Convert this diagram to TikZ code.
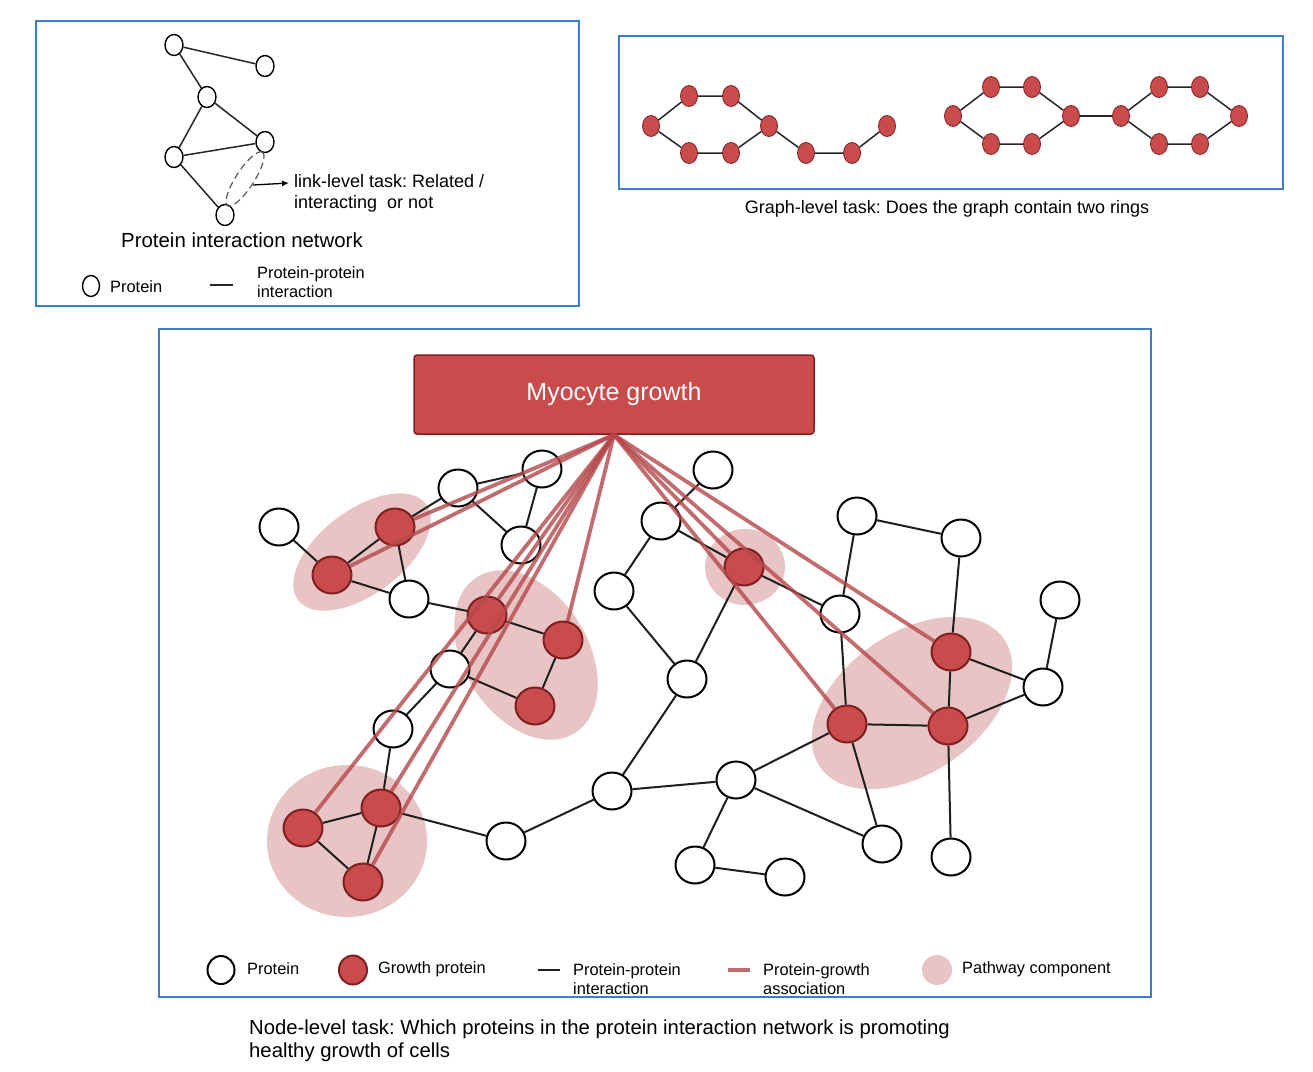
\documentclass[tikz,border=0pt]{standalone}
\usepackage{fontspec}
\setmainfont{Liberation Sans}
\usetikzlibrary{shapes.geometric,arrows.meta}
\definecolor{boxblue}{HTML}{3B7DC6}
\definecolor{gred}{HTML}{C94B4C}
\definecolor{gredd}{HTML}{7E1F22}
\definecolor{pathpink}{HTML}{E9C4C5}
\definecolor{assoc}{HTML}{B5484B}
\pgfdeclarelayer{bg}
\pgfdeclarelayer{pathbg}
\pgfsetlayers{pathbg,bg,main}
\frenchspacing
\begin{document}
\begin{tikzpicture}[x=1pt,y=-1pt,
 frame/.style={draw=boxblue,line width=2.6pt},
 prot/.style={ellipse,draw=black,fill=white,line width=2pt,minimum width=39pt,minimum height=37pt,inner sep=0pt},
 gprot/.style={prot,draw=gredd,fill=gred},
 ppi/.style={draw=black!88,line width=2pt},
 pga/.style={draw=assoc,line width=3.8pt,opacity=0.8},
 pway/.style={fill=pathpink},
 sprot/.style={ellipse,draw=black,fill=white,line width=1.4pt,minimum width=18pt,minimum height=21pt,inner sep=0pt},
 rprot/.style={ellipse,draw=gredd,fill=gred,line width=0.8pt,minimum width=17pt,minimum height=21pt,inner sep=0pt},
 sedge/.style={draw=black!85,line width=1.5pt},
 lbl/.style={font=\fontsize{16.4}{19}\selectfont,align=left,inner sep=0pt,anchor=west}
]
\useasboundingbox (0,0) rectangle (1313,1071);
\begin{pgfonlayer}{pathbg}
\fill[white] (0,0) rectangle (1313,1071);
\end{pgfonlayer}

% frames
\draw[frame] (36,21) rectangle (579,306);
\draw[frame] (619,36) rectangle (1283,189);
\draw[frame] (159,329) rectangle (1151,997);

% ---------- top-left: link-level ----------
\node[sprot] (a1) at (174,45) {};
\node[sprot] (a2) at (265,66) {};
\node[sprot] (a3) at (207,97) {};
\node[sprot] (a4) at (174,157) {};
\node[sprot] (a5) at (265,142) {};
\node[sprot] (a6) at (225,215) {};
\begin{pgfonlayer}{bg}
\draw[sedge] (a1) -- (a2);
\draw[sedge] (a1) -- (a3);
\draw[sedge] (a3) -- (a4);
\draw[sedge] (a3) -- (a5);
\draw[sedge] (a4) -- (a5);
\draw[sedge] (a4) -- (a6);
\end{pgfonlayer}
\draw[dashed,dash pattern=on 7pt off 4pt,draw=black!65,line width=1.2pt,rotate around={57:(245,179)}] (245,179) ellipse [x radius=32, y radius=9];
\coordinate (lnk) at (253,185);
\coordinate (lnkend) at (289,183);
\draw[line width=1.3pt,-{Latex[length=7pt,width=6pt]}] (lnk) -- (lnkend);
\node[lbl,font=\fontsize{18}{21}\selectfont] (linktxt) at (294,193.5) {link-level task: Related /\\interacting\ \ or not};
\node[inner sep=0pt,font=\fontsize{20.4}{24}\selectfont] (pinlbl) at (242,240) {Protein interaction network};
\node[sprot,minimum width=17pt,minimum height=21pt] (lg1) at (91,286) {};
\node[lbl] (lg1t) at (110,287) {Protein};
\coordinate (lg2a) at (210,285);
\coordinate (lg2b) at (233,285);
\draw[sedge] (lg2a) -- (lg2b);
\node[lbl] (lg2t) at (257,282.5) {Protein-protein\\interaction};

% ---------- top-right: graph-level ----------
\node[rprot] (g1) at (651,126) {};
\node[rprot] (g2) at (689,96) {};
\node[rprot] (g3) at (731,96) {};
\node[rprot] (g4) at (769,126) {};
\node[rprot] (g5) at (731,153) {};
\node[rprot] (g6) at (689,153) {};
\node[rprot] (g7) at (806,153) {};
\node[rprot] (g8) at (852,153) {};
\node[rprot] (g9) at (887,126) {};
\node[rprot] (h1) at (953,116) {};
\node[rprot] (h2) at (991,87) {};
\node[rprot] (h3) at (1032,87) {};
\node[rprot] (h4) at (1071,116) {};
\node[rprot] (h5) at (1032,144) {};
\node[rprot] (h6) at (991,144) {};
\node[rprot] (k1) at (1121,116) {};
\node[rprot] (k2) at (1159,87) {};
\node[rprot] (k3) at (1200,87) {};
\node[rprot] (k4) at (1239,116) {};
\node[rprot] (k5) at (1200,144) {};
\node[rprot] (k6) at (1159,144) {};
\begin{pgfonlayer}{bg}
\draw[sedge] (g1) -- (g2) -- (g3) -- (g4) -- (g5) -- (g6) -- (g1);
\draw[sedge] (g4) -- (g7) -- (g8) -- (g9);
\draw[sedge] (h1) -- (h2) -- (h3) -- (h4) -- (h5) -- (h6) -- (h1);
\draw[sedge] (k1) -- (k2) -- (k3) -- (k4) -- (k5) -- (k6) -- (k1);
\draw[sedge] (h4) -- (k1);
\end{pgfonlayer}
\node[inner sep=0pt,font=\fontsize{18}{21}\selectfont] (graphcap) at (947,209) {Graph-level task: Does the graph contain two rings};

% ---------- main: node-level ----------
\node[draw=gredd,fill=gred,rounded corners=3pt,line width=1.5pt,minimum width=400pt,minimum height=79pt,text=white,font=\fontsize{25}{30}\selectfont] (myo) at (614,394.5) {Myocyte growth};

\begin{pgfonlayer}{pathbg}
\fill[pway,rotate around={37:(362,552)}] (362,552) ellipse [x radius=80, y radius=42];
\fill[pway,rotate around={-58:(526,655)}] (526,655) ellipse [x radius=92, y radius=62];
\fill[pway] (347,841) ellipse [x radius=80, y radius=76];
\fill[pway] (745,567) ellipse [x radius=40, y radius=38];
\fill[pway,rotate around={35:(912,703)}] (912,703) ellipse [x radius=112, y radius=70];
\end{pgfonlayer}

\node[prot] (w1) at (279,527) {};
\node[prot] (w2) at (458,488) {};
\node[prot] (w3) at (542,469) {};
\node[prot] (w4) at (521,545) {};
\node[prot] (w5) at (409,599) {};
\node[prot] (w6) at (450,669) {};
\node[prot] (w7) at (393,729) {};
\node[prot] (w8) at (506,841) {};
\node[prot] (w9) at (612,791) {};
\node[prot] (w10) at (614,591) {};
\node[prot] (w11) at (661,521) {};
\node[prot] (w12) at (713,470) {};
\node[prot] (w13) at (687,679) {};
\node[prot] (w14) at (840,614) {};
\node[prot] (w15) at (857,516) {};
\node[prot] (w16) at (961,538) {};
\node[prot] (w17) at (1060,600) {};
\node[prot] (w18) at (1043,687) {};
\node[prot] (w19) at (736,780) {};
\node[prot] (w20) at (882,844) {};
\node[prot] (w21) at (951,857) {};
\node[prot] (w22) at (695,865) {};
\node[prot] (w23) at (785,877) {};
\node[gprot] (r1) at (395,527) {};
\node[gprot] (r2) at (332,575) {};
\node[gprot] (r3) at (487,615) {};
\node[gprot] (r4) at (563,640) {};
\node[gprot] (r5) at (535,706) {};
\node[gprot] (r6) at (381,808) {};
\node[gprot] (r7) at (303,828) {};
\node[gprot] (r8) at (363,882) {};
\node[gprot] (r9) at (744,567) {};
\node[gprot] (r10) at (951,652) {};
\node[gprot] (r11) at (847,724) {};
\node[gprot] (r12) at (948,726) {};

\begin{pgfonlayer}{bg}
\draw[ppi] (w1) -- (r2);
\draw[ppi] (r2) -- (r1);
\draw[ppi] (r1) -- (w2);
\draw[ppi] (r1) -- (w5);
\draw[ppi] (r2) -- (w5);
\draw[ppi] (w2) -- (w3);
\draw[ppi] (w2) -- (w4);
\draw[ppi] (w3) -- (w4);
\draw[ppi] (w5) -- (r3);
\draw[ppi] (r3) -- (r4);
\draw[ppi] (r3) -- (w6);
\draw[ppi] (w6) -- (r5);
\draw[ppi] (r4) -- (r5);
\draw[ppi] (w6) -- (w7);
\draw[ppi] (w7) -- (r6);
\draw[ppi] (r6) -- (r7);
\draw[ppi] (r7) -- (r8);
\draw[ppi] (r6) -- (r8);
\draw[ppi] (r6) -- (w8);
\draw[ppi] (w8) -- (w9);
\draw[ppi] (w9) -- (w13);
\draw[ppi] (w13) -- (r9);
\draw[ppi] (w11) -- (w12);
\draw[ppi] (w11) -- (w10);
\draw[ppi] (w11) -- (r9);
\draw[ppi] (r9) -- (w14);
\draw[ppi] (w10) -- (w13);
\draw[ppi] (w14) -- (w15);
\draw[ppi] (w14) -- (r11);
\draw[ppi] (w15) -- (w16);
\draw[ppi] (w16) -- (r10);
\draw[ppi] (r10) -- (r12);
\draw[ppi] (r10) -- (w18);
\draw[ppi] (w18) -- (w17);
\draw[ppi] (w18) -- (r12);
\draw[ppi] (r11) -- (r12);
\draw[ppi] (r11) -- (w19);
\draw[ppi] (w19) -- (w9);
\draw[ppi] (w19) -- (w22);
\draw[ppi] (w22) -- (w23);
\draw[ppi] (w19) -- (w20);
\draw[ppi] (r11) -- (w20);
\draw[ppi] (r12) -- (w21);
\end{pgfonlayer}

% protein-growth associations
\foreach \t in {r1,r2,r3,r4,r6,r7,r8,r9,r10,r11,r12}
  \draw[pga] (myo.south) -- (\t);

% legend
\node[prot,minimum width=27pt,minimum height=28pt] (lp) at (221,970) {};
\node[lbl] (lpt) at (247,969) {Protein};
\node[gprot,minimum width=28pt,minimum height=29pt] (lgp) at (353,970) {};
\node[lbl] (lgpt) at (378,969) {Growth protein};
\coordinate (lppa) at (538,970);
\coordinate (lppb) at (560,970);
\draw[ppi] (lppa) -- (lppb);
\node[lbl] (lppt) at (573,979.5) {Protein-protein\\interaction};
\coordinate (lpga) at (728,970);
\coordinate (lpgb) at (750,970);
\draw[pga] (lpga) -- (lpgb);
\node[lbl] (lpgt) at (763,979.5) {Protein-growth\\association};
\node[ellipse,fill=pathpink,minimum width=30pt,minimum height=30pt,inner sep=0pt] (lpw) at (937,970) {};
\node[lbl] (lpwt) at (962,969) {Pathway component};

\node[lbl,font=\fontsize{20.3}{23}\selectfont] (nodecap) at (249,1040.5) {Node-level task: Which proteins in the protein interaction network is promoting\\healthy growth of cells};
\end{tikzpicture}
\end{document}
